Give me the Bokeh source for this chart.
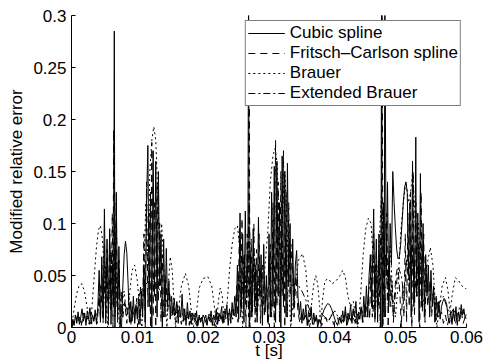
import numpy as np
from bokeh.plotting import figure
from bokeh.models import Range1d, FixedTicker
from bokeh.embed import file_html
from bokeh.resources import INLINE

series_names = ["Cubic spline", "Fritsch\u2013Carlson spline", "Brauer", "Extended Brauer"]
x_ticks = [0, 0.01, 0.02, 0.03, 0.04, 0.05, 0.06]
x_tick_labels = ["0", "0.01", "0.02", "0.03", "0.04", "0.05", "0.06"]
y_ticks = [0, 0.05, 0.1, 0.15, 0.2, 0.25, 0.3]
y_tick_labels = ["0", "0.05", "0.1", "0.15", "0.2", "0.25", "0.3"]

# ---- Cubic spline (time in ms, modified relative error) ----
t_cubic_ms = [
    0.0, 0.2, 0.4, 0.6, 0.8, 1.0, 1.2, 1.4, 1.6, 1.8,
    2.0, 2.2, 2.4, 2.6, 2.8, 3.0, 3.2, 3.4, 3.6, 3.8,
    4.0, 4.2, 4.4, 4.6, 4.8, 5.0, 5.2, 5.4, 5.6, 5.8,
    6.0, 6.2, 6.4, 6.5, 6.6, 6.8, 7.0, 7.2, 7.4, 7.6,
    7.8, 8.0, 8.2, 8.4, 8.6, 8.8, 9.0, 9.2, 9.4, 9.6,
    9.8, 10.0, 10.2, 10.4, 10.6, 10.8, 11.0, 11.2, 11.4, 11.6,
    11.8, 12.0, 12.2, 12.4, 12.6, 12.8, 13.0, 13.2, 13.4, 13.6,
    13.8, 14.0, 14.2, 14.4, 14.6, 14.8, 15.0, 15.2, 15.4, 15.6,
    15.8, 16.0, 16.2, 16.4, 16.6, 16.8, 17.0, 17.2, 17.4, 17.6,
    17.8, 18.0, 18.2, 18.4, 18.6, 18.8, 19.0, 19.2, 19.4, 19.6,
    19.8, 20.0, 20.2, 20.4, 20.6, 20.8, 21.0, 21.2, 21.4, 21.6,
    21.8, 22.0, 22.2, 22.4, 22.6, 22.8, 23.0, 23.2, 23.4, 23.6,
    23.8, 24.0, 24.2, 24.4, 24.6, 24.8, 25.0, 25.2, 25.4, 25.6,
    25.8, 26.0, 26.2, 26.4, 26.6, 26.8, 26.9, 27.0, 27.2, 27.4,
    27.6, 27.8, 28.0, 28.2, 28.4, 28.6, 28.8, 29.0, 29.2, 29.4,
    29.6, 29.8, 30.0, 30.2, 30.4, 30.6, 30.8, 31.0, 31.2, 31.4,
    31.6, 31.8, 32.0, 32.2, 32.4, 32.6, 32.8, 33.0, 33.2, 33.4,
    33.6, 33.8, 34.0, 34.2, 34.4, 34.6, 34.8, 35.0, 35.2, 35.4,
    35.6, 35.8, 36.0, 36.2, 36.4, 36.6, 36.8, 37.0, 37.2, 37.4,
    37.6, 37.8, 38.0, 38.3, 38.6, 38.9, 39.2, 39.5, 39.8, 40.1,
    40.4, 40.7, 41.0, 41.2, 41.4, 41.6, 41.8, 42.0, 42.2, 42.4,
    42.6, 42.8, 43.0, 43.2, 43.4, 43.6, 43.8, 44.0, 44.2, 44.4,
    44.6, 44.8, 45.0, 45.2, 45.4, 45.6, 45.9, 46.1, 46.3, 46.5,
    46.7, 46.9, 47.0, 47.1, 47.2, 47.4, 47.5, 47.6, 47.8, 48.0,
    48.2, 48.4, 48.6, 48.8, 49.0, 49.2, 49.4, 49.6, 49.8, 50.0,
    50.2, 50.4, 50.6, 50.8, 51.0, 51.2, 51.4, 51.6, 51.8, 52.0,
    52.2, 52.3, 52.4, 52.6, 52.8, 53.0, 53.2, 53.4, 53.6, 53.8,
    54.0, 54.2, 54.4, 54.6, 54.8, 55.0, 55.2, 55.4, 55.6, 55.8,
    56.0, 56.2, 56.4, 56.6, 56.8, 57.0, 57.2, 57.4, 57.6, 57.8,
    58.0, 58.2, 58.4, 58.6, 58.8, 59.0, 59.2, 59.4, 59.6, 59.8,
    60.0,
]
err_cubic = [
    0.000, 0.008, 0.002, 0.012, 0.004, 0.015, 0.003, 0.010, 0.018, 0.006,
    0.014, 0.002, 0.016, 0.008, 0.019, 0.004, 0.012, 0.006, 0.017, 0.003,
    0.020, 0.055, 0.005, 0.068, 0.010, 0.114, 0.004, 0.085, 0.012, 0.095,
    0.003, 0.060, 0.020, 0.285, 0.000, 0.130, 0.010, 0.078, 0.002, 0.000,
    0.040, 0.070, 0.083, 0.072, 0.042, 0.005, 0.025, 0.006, 0.030, 0.004,
    0.022, 0.008, 0.028, 0.003, 0.035, 0.010, 0.060, 0.005, 0.120, 0.175,
    0.020, 0.130, 0.000, 0.170, 0.030, 0.160, 0.010, 0.150, 0.040, 0.090,
    0.000, 0.085, 0.010, 0.076, 0.020, 0.045, 0.008, 0.030, 0.012, 0.028,
    0.012, 0.025, 0.004, 0.020, 0.010, 0.032, 0.006, 0.018, 0.002, 0.024,
    0.008, 0.016, 0.003, 0.014, 0.010, 0.006, 0.015, 0.002, 0.012, 0.005,
    0.010, 0.001, 0.008, 0.012, 0.003, 0.011, 0.006, 0.016, 0.002, 0.012,
    0.007, 0.018, 0.003, 0.014, 0.008, 0.020, 0.004, 0.016, 0.010, 0.022,
    0.002, 0.018, 0.006, 0.024, 0.012, 0.030, 0.010, 0.060, 0.008, 0.110,
    0.020, 0.090, 0.005, 0.112, 0.030, 0.080, 0.340, 0.000, 0.070, 0.010,
    0.095, 0.020, 0.060, 0.005, 0.106, 0.030, 0.070, 0.002, 0.080, 0.015,
    0.050, 0.005, 0.090, 0.010, 0.130, 0.020, 0.155, 0.005, 0.160, 0.030,
    0.120, 0.000, 0.165, 0.020, 0.150, 0.010, 0.158, 0.040, 0.100, 0.006,
    0.085, 0.020, 0.060, 0.074, 0.030, 0.012, 0.025, 0.004, 0.018, 0.008,
    0.022, 0.002, 0.015, 0.010, 0.020, 0.003, 0.014, 0.006, 0.012, 0.000,
    0.008, 0.004, 0.010, 0.016, 0.020, 0.023, 0.022, 0.018, 0.012, 0.006,
    0.002, 0.010, 0.004, 0.016, 0.006, 0.020, 0.002, 0.014, 0.008, 0.022,
    0.004, 0.018, 0.010, 0.025, 0.003, 0.015, 0.008, 0.020, 0.005, 0.030,
    0.010, 0.040, 0.010, 0.050, 0.070, 0.020, 0.114, 0.010, 0.085, 0.005,
    0.090, 0.030, 0.000, 0.330, 0.000, 0.120, 0.010, 0.320, 0.050, 0.140,
    0.020, 0.100, 0.060, 0.150, 0.120, 0.095, 0.075, 0.066, 0.068, 0.080,
    0.100, 0.120, 0.135, 0.140, 0.130, 0.050, 0.120, 0.010, 0.160, 0.020,
    0.090, 0.183, 0.030, 0.110, 0.005, 0.148, 0.020, 0.100, 0.010, 0.070,
    0.030, 0.060, 0.010, 0.055, 0.020, 0.040, 0.005, 0.030, 0.010, 0.025,
    0.008, 0.020, 0.025, 0.028, 0.026, 0.022, 0.010, 0.004, 0.015, 0.003,
    0.018, 0.006, 0.020, 0.002, 0.015, 0.008, 0.022, 0.012, 0.018, 0.009,
    0.013,
]

# ---- Fritsch-Carlson spline ----
t_fc_ms = [
    0.0, 0.3, 0.6, 0.9, 1.2, 1.5, 1.8, 2.1, 2.4, 2.7,
    3.0, 3.3, 3.6, 3.9, 4.2, 4.4, 4.6, 4.8, 5.0, 5.2,
    5.4, 5.6, 5.8, 6.0, 6.2, 6.3, 6.4, 6.6, 6.8, 7.0,
    7.2, 7.4, 7.6, 7.8, 8.1, 8.4, 8.7, 9.0, 9.3, 9.6,
    9.9, 10.2, 10.5, 10.8, 11.0, 11.2, 11.4, 11.6, 11.8, 12.0,
    12.2, 12.4, 12.6, 12.8, 13.0, 13.2, 13.4, 13.6, 13.8, 14.0,
    14.3, 14.6, 14.9, 15.2, 15.5, 15.8, 16.1, 16.4, 16.7, 17.0,
    17.3, 17.6, 17.9, 18.2, 18.5, 18.8, 19.1, 19.4, 19.7, 20.0,
    20.3, 20.6, 20.9, 21.2, 21.5, 21.8, 22.1, 22.4, 22.7, 23.0,
    23.3, 23.6, 23.9, 24.2, 24.5, 24.8, 25.1, 25.3, 25.5, 25.7,
    25.9, 26.1, 26.3, 26.5, 26.7, 26.9, 27.0, 27.1, 27.3, 27.5,
    27.7, 27.9, 28.1, 28.3, 28.5, 28.7, 29.0, 29.3, 29.6, 29.9,
    30.2, 30.4, 30.6, 30.8, 31.0, 31.2, 31.4, 31.6, 31.8, 32.0,
    32.2, 32.4, 32.6, 32.8, 33.0, 33.2, 33.5, 33.8, 34.1, 34.4,
    34.7, 35.0, 35.3, 35.6, 35.9, 36.2, 36.5, 36.8, 37.1, 37.4,
    37.7, 38.0, 38.3, 38.6, 38.9, 39.2, 39.5, 39.8, 40.1, 40.4,
    40.7, 41.0, 41.3, 41.6, 41.9, 42.2, 42.5, 42.8, 43.1, 43.4,
    43.7, 44.0, 44.3, 44.6, 44.9, 45.1, 45.3, 45.5, 45.7, 45.9,
    46.1, 46.3, 46.5, 46.7, 46.9, 47.1, 47.2, 47.3, 47.5, 47.7,
    47.9, 48.1, 48.3, 48.5, 48.7, 48.9, 49.1, 49.3, 49.5, 49.7,
    49.9, 50.1, 50.3, 50.5, 50.7, 50.9, 51.1, 51.3, 51.5, 51.7,
    51.9, 52.1, 52.3, 52.5, 52.7, 52.9, 53.1, 53.3, 53.5, 53.7,
    53.9, 54.1, 54.4, 54.7, 55.0, 55.3, 55.6, 55.9, 56.2, 56.5,
    56.8, 57.1, 57.4, 57.7, 58.0, 58.3, 58.6, 58.9, 59.2, 59.5,
    59.8, 60.0,
]
err_fc = [
    0.000, 0.006, 0.012, 0.004, 0.010, 0.002, 0.014, 0.005, 0.011, 0.003,
    0.015, 0.006, 0.013, 0.004, 0.030, 0.008, 0.060, 0.004, 0.080, 0.010,
    0.075, 0.002, 0.090, 0.015, 0.110, 0.000, 0.190, 0.010, 0.120, 0.005,
    0.065, 0.000, 0.035, 0.010, 0.025, 0.004, 0.030, 0.002, 0.020, 0.008,
    0.028, 0.003, 0.040, 0.010, 0.090, 0.000, 0.140, 0.020, 0.110, 0.000,
    0.178, 0.010, 0.120, 0.000, 0.140, 0.025, 0.100, 0.005, 0.070, 0.010,
    0.050, 0.015, 0.035, 0.010, 0.020, 0.005, 0.022, 0.010, 0.003, 0.018,
    0.008, 0.015, 0.002, 0.012, 0.006, 0.014, 0.001, 0.010, 0.004, 0.012,
    0.007, 0.002, 0.013, 0.005, 0.010, 0.001, 0.015, 0.006, 0.012, 0.003,
    0.018, 0.008, 0.014, 0.004, 0.020, 0.010, 0.040, 0.005, 0.095, 0.010,
    0.105, 0.020, 0.070, 0.000, 0.090, 0.010, 0.270, 0.000, 0.085, 0.015,
    0.100, 0.005, 0.075, 0.020, 0.090, 0.004, 0.060, 0.010, 0.040, 0.002,
    0.080, 0.010, 0.120, 0.000, 0.180, 0.020, 0.140, 0.005, 0.150, 0.030,
    0.170, 0.000, 0.130, 0.010, 0.120, 0.030, 0.080, 0.010, 0.050, 0.015,
    0.004, 0.016, 0.006, 0.012, 0.002, 0.014, 0.008, 0.003, 0.011, 0.005,
    0.009, 0.002, 0.006, 0.010, 0.004, 0.008, 0.012, 0.003, 0.007, 0.010,
    0.002, 0.012, 0.005, 0.015, 0.003, 0.011, 0.006, 0.016, 0.004, 0.013,
    0.008, 0.018, 0.005, 0.022, 0.010, 0.030, 0.008, 0.070, 0.010, 0.090,
    0.004, 0.075, 0.015, 0.060, 0.000, 0.140, 0.310, 0.000, 0.090, 0.010,
    0.110, 0.000, 0.060, 0.020, 0.045, 0.005, 0.035, 0.050, 0.057, 0.050,
    0.030, 0.000, 0.040, 0.010, 0.090, 0.005, 0.110, 0.020, 0.130, 0.000,
    0.150, 0.010, 0.120, 0.030, 0.080, 0.000, 0.130, 0.015, 0.090, 0.005,
    0.060, 0.020, 0.045, 0.010, 0.035, 0.004, 0.025, 0.010, 0.015, 0.004,
    0.012, 0.002, 0.010, 0.005, 0.014, 0.003, 0.011, 0.006, 0.016, 0.004,
    0.010, 0.008,
]

# ---- Brauer ----
t_brauer_ms = [
    0.0, 0.4, 0.8, 1.2, 1.6, 2.0, 2.4, 2.8, 3.0, 3.4,
    3.8, 4.1, 4.4, 4.7, 5.0, 5.3, 5.5, 5.8, 6.1, 6.4,
    6.7, 7.0, 7.3, 7.6, 8.0, 8.4, 8.8, 9.2, 9.6, 10.0,
    10.4, 10.7, 11.0, 11.3, 11.6, 11.9, 12.2, 12.5, 12.8, 13.1,
    13.4, 13.7, 14.0, 14.3, 14.5, 14.7, 15.0, 15.3, 15.6, 15.8,
    16.2, 16.7, 17.3, 17.8, 18.3, 18.5, 18.9, 19.4, 20.0, 20.7,
    21.3, 21.8, 22.0, 22.3, 22.6, 22.9, 23.2, 23.6, 24.0, 24.4,
    24.8, 25.2, 25.5, 25.8, 26.0, 26.3, 26.6, 27.0, 27.4, 27.8,
    28.2, 28.6, 29.0, 29.4, 29.8, 30.2, 30.6, 30.9, 31.2, 31.5,
    31.8, 32.1, 32.4, 32.7, 33.0, 33.3, 33.6, 34.0, 34.5, 35.1,
    35.6, 36.0, 36.2, 36.5, 36.8, 37.1, 37.4, 37.7, 37.9, 38.1,
    38.5, 39.0, 39.6, 40.2, 40.8, 41.2, 41.6, 42.0, 42.4, 42.8,
    43.2, 43.5, 43.9, 44.3, 44.7, 45.1, 45.5, 45.9, 46.2, 46.5,
    46.8, 47.1, 47.4, 47.7, 48.0, 48.4, 48.8, 49.2, 49.6, 50.0,
    50.4, 50.8, 51.2, 51.5, 51.8, 52.1, 52.4, 52.7, 53.0, 53.3,
    53.6, 54.0, 54.5, 54.9, 55.3, 55.5, 55.9, 56.3, 56.8, 57.2,
    57.5, 57.8, 58.3, 58.8, 59.3, 59.7, 60.0,
]
err_brauer = [
    0.000, 0.018, 0.033, 0.041, 0.042, 0.034, 0.018, 0.002, 0.010, 0.045,
    0.078, 0.094, 0.098, 0.085, 0.055, 0.020, 0.000, 0.040, 0.070, 0.050,
    0.080, 0.030, 0.000, 0.020, 0.035, 0.010, 0.030, 0.055, 0.060, 0.045,
    0.015, 0.000, 0.060, 0.120, 0.060, 0.150, 0.180, 0.193, 0.180, 0.130,
    0.070, 0.100, 0.060, 0.020, 0.000, 0.040, 0.068, 0.055, 0.020, 0.000,
    0.015, 0.040, 0.052, 0.040, 0.010, 0.000, 0.010, 0.038, 0.047, 0.049,
    0.040, 0.015, 0.000, 0.025, 0.038, 0.030, 0.005, 0.020, 0.055, 0.080,
    0.095, 0.098, 0.080, 0.030, 0.000, 0.060, 0.020, 0.080, 0.040, 0.070,
    0.010, 0.050, 0.020, 0.060, 0.090, 0.140, 0.165, 0.172, 0.160, 0.110,
    0.050, 0.120, 0.150, 0.110, 0.040, 0.000, 0.020, 0.045, 0.065, 0.071,
    0.055, 0.020, 0.000, 0.025, 0.042, 0.050, 0.042, 0.020, 0.000, 0.025,
    0.045, 0.047, 0.042, 0.045, 0.050, 0.055, 0.048, 0.030, 0.020, 0.025,
    0.010, 0.000, 0.030, 0.070, 0.095, 0.105, 0.100, 0.060, 0.020, 0.050,
    0.090, 0.130, 0.060, 0.100, 0.040, 0.080, 0.030, 0.010, 0.040, 0.090,
    0.120, 0.140, 0.120, 0.130, 0.148, 0.120, 0.060, 0.100, 0.060, 0.020,
    0.030, 0.060, 0.077, 0.060, 0.020, 0.000, 0.020, 0.040, 0.048, 0.035,
    0.015, 0.030, 0.048, 0.045, 0.040, 0.038, 0.037,
]

# ---- Extended Brauer ----
t_ext_ms = [
    0.0, 0.5, 1.0, 1.5, 2.0, 2.5, 3.0, 3.5, 4.0, 4.4,
    4.8, 5.2, 5.6, 6.0, 6.3, 6.6, 6.9, 7.2, 7.6, 8.0,
    8.5, 9.0, 9.5, 10.0, 10.5, 11.0, 11.5, 12.0, 12.5, 13.0,
    13.5, 14.0, 14.5, 15.0, 15.5, 16.0, 16.5, 17.0, 17.5, 18.0,
    18.5, 19.0, 19.5, 20.0, 20.5, 21.0, 21.5, 22.0, 22.5, 23.0,
    23.5, 24.0, 24.5, 25.0, 25.4, 25.8, 26.2, 26.6, 27.0, 27.3,
    27.7, 28.1, 28.5, 29.0, 29.5, 30.0, 30.5, 31.0, 31.5, 32.0,
    32.5, 33.0, 33.5, 34.0, 34.5, 35.0, 35.5, 36.0, 36.5, 37.0,
    37.5, 38.0, 38.5, 39.0, 39.5, 40.0, 40.5, 41.0, 41.5, 42.0,
    42.5, 43.0, 43.5, 44.0, 44.5, 45.0, 45.4, 45.8, 46.2, 46.6,
    47.0, 47.3, 47.7, 48.1, 48.5, 48.9, 49.3, 49.7, 50.1, 50.5,
    50.9, 51.3, 51.7, 52.1, 52.5, 52.9, 53.3, 53.7, 54.1, 54.5,
    55.0, 55.5, 56.0, 56.5, 57.0, 57.5, 58.0, 58.5, 59.0, 59.5,
    60.0,
]
err_ext = [
    0.000, 0.006, 0.010, 0.004, 0.012, 0.008, 0.003, 0.010, 0.015, 0.040,
    0.010, 0.060, 0.020, 0.075, 0.030, 0.100, 0.020, 0.050, 0.010, 0.025,
    0.015, 0.005, 0.015, 0.025, 0.035, 0.040, 0.043, 0.045, 0.044, 0.040,
    0.035, 0.030, 0.025, 0.020, 0.018, 0.014, 0.010, 0.006, 0.012, 0.004,
    0.010, 0.002, 0.008, 0.012, 0.004, 0.010, 0.002, 0.008, 0.012, 0.005,
    0.010, 0.015, 0.008, 0.020, 0.050, 0.015, 0.070, 0.020, 0.120, 0.010,
    0.060, 0.015, 0.045, 0.020, 0.030, 0.040, 0.067, 0.050, 0.090, 0.040,
    0.070, 0.045, 0.040, 0.042, 0.040, 0.035, 0.028, 0.020, 0.012, 0.006,
    0.010, 0.013, 0.010, 0.006, 0.012, 0.016, 0.010, 0.005, 0.012, 0.008,
    0.014, 0.006, 0.012, 0.018, 0.010, 0.025, 0.050, 0.015, 0.060, 0.020,
    0.090, 0.010, 0.070, 0.020, 0.050, 0.010, 0.040, 0.057, 0.050, 0.030,
    0.065, 0.040, 0.080, 0.030, 0.060, 0.040, 0.050, 0.045, 0.040, 0.035,
    0.030, 0.020, 0.025, 0.030, 0.020, 0.012, 0.018, 0.010, 0.020, 0.015,
    0.008,
]

series = [
    (t_cubic_ms, err_cubic, None),
    (t_fc_ms, err_fc, "7 5"),
    (t_brauer_ms, err_brauer, "2 3"),
    (t_ext_ms, err_ext, "7 3 2 3"),
]
for t_ms, err, _ in series:
    assert len(t_ms) == len(err), (len(t_ms), len(err))

FONT = "Liberation Sans"

p = figure(width=483, height=364, output_backend="svg", toolbar_location=None,
           x_range=Range1d(0, 0.06), y_range=Range1d(0, 0.3),
           min_border_left=71, min_border_right=17, min_border_top=15,
           min_border_bottom=37)
p.outline_line_color = None
p.grid.visible = False
p.background_fill_color = "white"
p.border_fill_color = "white"

for name, (t_ms, err, dash) in zip(series_names, series):
    t_s = np.array(t_ms) / 1000.0
    kw = dict(line_color="black", line_width=1, legend_label=name)
    if dash:
        kw["line_dash"] = dash
    p.line(t_s, err, **kw)

p.xaxis.ticker = FixedTicker(ticks=x_ticks)
p.xaxis.major_label_overrides = {k: v for k, v in zip(x_ticks, x_tick_labels)}
p.yaxis.ticker = FixedTicker(ticks=y_ticks)
p.yaxis.major_label_overrides = {k: v for k, v in zip(y_ticks, y_tick_labels)}
p.xaxis.axis_label = "t [s]"
p.yaxis.axis_label = "Modified relative error"

for ax in (p.xaxis[0], p.yaxis[0]):
    ax.major_tick_in = 4
    ax.major_tick_out = 0
    ax.minor_tick_line_color = None
    ax.axis_line_color = "black"
    ax.major_tick_line_color = "black"
    ax.major_label_text_font = FONT
    ax.major_label_text_font_size = "17px"
    ax.major_label_text_color = "black"
    ax.axis_label_text_font = FONT
    ax.axis_label_text_font_size = "17px"
    ax.axis_label_text_font_style = "normal"
    ax.axis_label_text_color = "black"
p.xaxis.major_label_standoff = 3
p.xaxis.axis_label_standoff = -5
p.yaxis.major_label_standoff = 5
p.yaxis.axis_label_standoff = 4

lg = p.legend[0]
lg.location = "top_right"
lg.margin = 5
lg.padding = 2
lg.spacing = 0
lg.label_height = 20
lg.glyph_height = 20
lg.glyph_width = 37
lg.label_standoff = 5
lg.label_text_font = FONT
lg.label_text_font_size = "17px"
lg.label_text_color = "black"
lg.border_line_color = "black"
lg.border_line_width = 1
lg.background_fill_alpha = 1.0

open("out.html", "w").write(file_html(p, INLINE))
